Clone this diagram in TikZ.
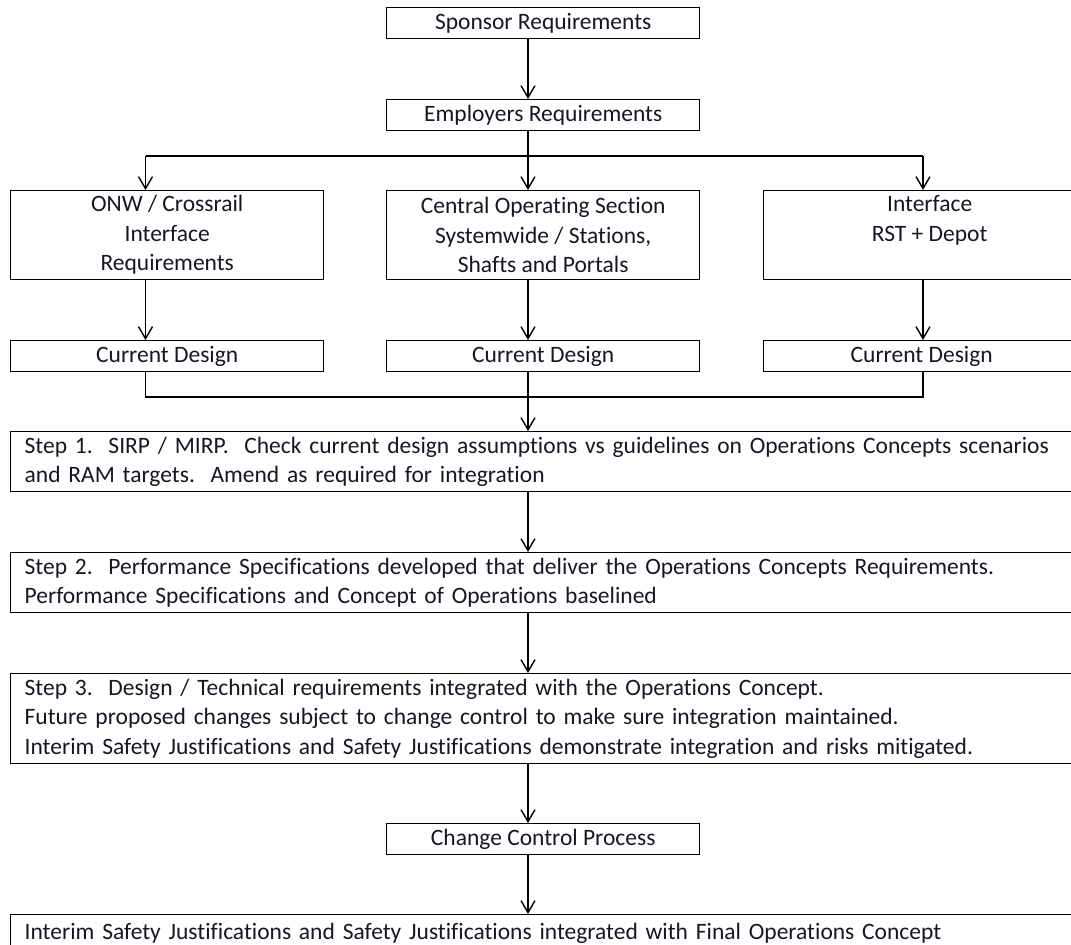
\documentclass[tikz,border=0pt]{standalone}
\usepackage{fontspec}
\setmainfont{Carlito}[Ligatures=NoCommon]
\usetikzlibrary{arrows.meta}
\definecolor{ink}{RGB}{22,22,38}
\frenchspacing
\begin{document}
\begin{tikzpicture}[x=1pt,y=-1pt,
  box/.style={draw=black, line width=1.4pt, text=ink,
    font=\fontsize{23.5}{29.5}\selectfont, inner sep=0pt, anchor=north west},
  narrowbox/.style={box, minimum width=313pt, minimum height=31pt},
  tallbox/.style={box, minimum width=313pt, minimum height=89pt, align=center},
  stepbox/.style={box, text width=1057pt, inner xsep=14pt, align=left},
  arr/.style={-{Straight Barb[length=12pt,width=14pt]}, line width=1.4pt},
  link/.style={line width=1.4pt}
]
\useasboundingbox (0,0) rectangle (1071,945);
\clip (0,0) rectangle (1071,945);

% column and junction reference points
\coordinate (colL) at (145.5,0);
\coordinate (colM) at (528,0);
\coordinate (colR) at (923,0);
\coordinate (split) at (0,156);
\coordinate (merge) at (0,397);

% requirements chain
\node[narrowbox] (sponsor) at (386,7) {Sponsor Requirements};
\node[narrowbox] (employers) at (386,99) {Employers Requirements};

\node[tallbox] (onw) at (10,190) {ONW / Crossrail\\Interface\\Requirements};
\node[tallbox] (central) at (386,190) {Central Operating Section\\Systemwide / Stations,\\Shafts and Portals};
\node[tallbox, minimum width=332pt] (iface) at (763,190) {Interface\\RST + Depot\\\phantom{Rq}};

\node[narrowbox] (cdl) at (10,340) {Current Design};
\node[narrowbox] (cdm) at (386,340) {Current Design};
\node[narrowbox, minimum width=316pt] (cdr) at (763,340) {Current Design};

% integration steps
\node[stepbox, minimum height=60pt] (step1) at (10,431)
  {Step 1.~ SIRP / MIRP.~ Check current design assumptions vs guidelines on Operations Concepts scenarios\\
   and RAM targets.~ Amend as required for integration};
\node[stepbox, minimum height=60pt] (step2) at (10,552)
  {Step 2.~ Performance Specifications developed that deliver the Operations Concepts Requirements.\\
   Performance Specifications and Concept of Operations baselined};
\node[stepbox, minimum height=90pt] (step3) at (10,673)
  {Step 3.~ Design / Technical requirements integrated with the Operations Concept.\\
   Future proposed changes subject to change control to make sure integration maintained.\\
   Interim Safety Justifications and Safety Justifications demonstrate integration and risks mitigated.};
\node[narrowbox] (change) at (386,823) {Change Control Process};
\node[stepbox, minimum height=38pt] (final) at (10,914)
  {Interim Safety Justifications and Safety Justifications integrated with Final Operations Concept};

% connectors
\draw[arr] (sponsor.south -| colM) -- (employers.north -| colM);
\draw[link] (employers.south -| colM) -- (split -| colM);
\draw[link] (split -| colL) -- (split -| colR);
\draw[arr] (split -| colL) -- (onw.north -| colL);
\draw[arr] (split -| colM) -- (central.north -| colM);
\draw[arr] (split -| colR) -- (iface.north -| colR);

\draw[arr] (onw.south -| colL) -- (cdl.north -| colL);
\draw[arr] (central.south -| colM) -- (cdm.north -| colM);
\draw[arr] (iface.south -| colR) -- (cdr.north -| colR);

\draw[link] (cdl.south -| colL) -- (merge -| colL) -- (merge -| colR) -- (cdr.south -| colR);
\draw[arr] (cdm.south -| colM) -- (step1.north -| colM);

\draw[arr] (step1.south -| colM) -- (step2.north -| colM);
\draw[arr] (step2.south -| colM) -- (step3.north -| colM);
\draw[arr] (step3.south -| colM) -- (change.north -| colM);
\draw[arr] (change.south -| colM) -- (final.north -| colM);
\end{tikzpicture}
\end{document}
